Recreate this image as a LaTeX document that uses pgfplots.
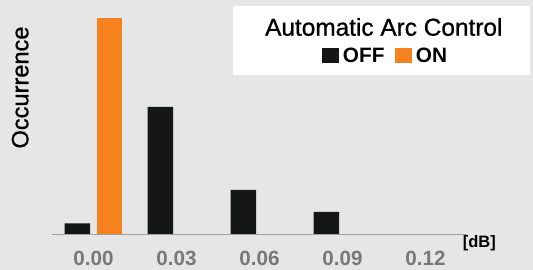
\documentclass[border=0pt]{standalone}
\usepackage{pgfplots}
\pgfplotsset{compat=1.18}
\usepackage{fontspec}
\setmainfont{Liberation Sans}
\newfontfamily\medfont[FakeBold=0.9]{Liberation Sans}
\definecolor{bg}{HTML}{E6E6E6}
\definecolor{onorange}{HTML}{F5821F}
\definecolor{offblack}{HTML}{151716}
\definecolor{axisgray}{HTML}{A0A0A0}
\definecolor{tickgray}{HTML}{787878}
\begin{document}
\begin{tikzpicture}[x=1pt,y=1pt]
\fill[bg] (0,0) rectangle (533,270);
\path[use as bounding box] (0,0) rectangle (533,270);
\begin{axis}[at={(52pt,35.7pt)}, anchor=south west, scale only axis,
  width=415pt, height=230pt, xmin=-0.5, xmax=4.5, ymin=0, ymax=230,
  axis line style={draw=none}, ytick=\empty,
  xtick={0,1,2,3,4}, xticklabels={0.00,0.03,0.06,0.09,0.12},
  major tick length=0pt,
  xticklabel style={anchor=base, yshift=-31.4pt, font=\fontsize{20.6}{24}\selectfont\bfseries, text=tickgray, inner sep=0pt},
  bar width=25.5pt, clip=false]
\addplot[ybar, bar shift=-16pt, fill=offblack, draw=none] coordinates {(0,11) (1,127.3) (2,44.3) (3,22.3)};
\addplot[ybar, bar shift=16pt, fill=onorange, draw=none] coordinates {(0,216.3)};
\draw[axisgray, line width=1.5pt] (axis cs:-0.5,0) -- (axis cs:4.5,0);
\end{axis}
% y label
\node[rotate=90, anchor=base, inner sep=0pt, font=\medfont\fontsize{23.6}{28}\selectfont] at (28.3,182.5) {Occurrence};
% unit
\node[anchor=base west, inner sep=0pt, font=\fontsize{16.5}{20}\selectfont\bfseries] at (462.7,22) {[dB]};
% legend box
\fill[white] (233,195) rectangle (530,264);
\node[anchor=base, inner sep=0pt, font=\medfont\fontsize{24.4}{28}\selectfont] at (383.8,234.3) {Automatic Arc Control};
\fill[offblack] (322,207.3) rectangle (338.7,222.3);
\node[anchor=base west, inner sep=0pt, font=\fontsize{20.8}{24}\selectfont\bfseries] at (342.7,207.3) {OFF};
\fill[onorange] (395,207.3) rectangle (411.7,222.3);
\node[anchor=base west, inner sep=0pt, font=\fontsize{20.8}{24}\selectfont\bfseries] at (415.7,207.3) {ON};
\end{tikzpicture}
\end{document}
